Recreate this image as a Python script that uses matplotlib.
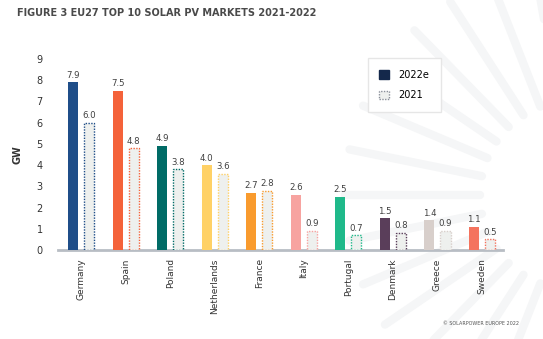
import matplotlib
matplotlib.use("Agg")

import matplotlib.pyplot as plt
import numpy as np
from matplotlib.patches import Patch

# Datos
paises = ["Germany", "Spain", "Poland", "Netherlands", "France",
          "Italy", "Portugal", "Denmark", "Greece", "Sweden"]
gw_2022 = [7.9, 7.5, 4.9, 4.0, 2.7, 2.6, 2.5, 1.5, 1.4, 1.1]
gw_2021 = [6.0, 4.8, 3.8, 3.6, 2.8, 0.9, 0.7, 0.8, 0.9, 0.5]
colores = ["#1F4E89", "#F4623A", "#006B66", "#FFD166", "#F99B2E",
           "#F7A3A0", "#1FB98A", "#5A3E5A", "#D8CFCB", "#F4735E"]

fig = plt.figure(figsize=(5.43, 3.39), dpi=100)

# Rayos decorativos de fondo
fondo = fig.add_axes([0, 0, 1, 1], zorder=0)
fondo.set_xlim(0, 543)
fondo.set_ylim(339, 0)
fondo.axis("off")
cx, cy = 575, 195
for ang in np.linspace(100, 260, 15):
    a = np.deg2rad(ang)
    r1, r2 = 95, 230
    fondo.plot([cx + r1 * np.cos(a), cx + r2 * np.cos(a)],
               [cy + r1 * np.sin(a), cy + r2 * np.sin(a)],
               color="#F5F6F7", lw=6, solid_capstyle="round")

ax = fig.add_axes([0.107, 0.2625, 0.819, 0.5635], zorder=1)
ax.patch.set_alpha(0)

x = np.arange(len(paises))
ancho = 0.23
sep = 0.18

ax.bar(x - sep, gw_2022, ancho, color=colores, zorder=3)
ax.bar(x + sep, gw_2021, ancho, color="#EEF0EE", edgecolor=colores,
       linestyle=(0, (1, 1)), linewidth=1.0, zorder=3)

for i in range(len(paises)):
    ax.text(x[i] - sep, gw_2022[i] + 0.12, f"{gw_2022[i]:.1f}", ha="center",
            va="bottom", fontsize=6.2, color="#404040")
    ax.text(x[i] + sep, gw_2021[i] + 0.12, f"{gw_2021[i]:.1f}", ha="center",
            va="bottom", fontsize=6.2, color="#404040")

ax.set_xlim(-0.52, 9.47)
ax.set_ylim(0, 9)
ax.set_yticks(range(10))
ax.tick_params(axis="y", length=0, labelsize=7, colors="#333333", pad=11)
ax.set_xticks(x)
ax.set_xticklabels(paises, rotation=90, fontsize=6.5, color="#333333")
ax.tick_params(axis="x", length=0, pad=6)
for s in ["top", "right", "left"]:
    ax.spines[s].set_visible(False)
ax.spines["bottom"].set_color("#B8BDC4")
ax.spines["bottom"].set_linewidth(2)
ax.set_ylabel("GW", fontsize=7, fontweight="bold", color="#333333", labelpad=10)

leyenda = [Patch(facecolor="#14284B", edgecolor="#14284B", label="2022e"),
           Patch(facecolor="#EEF0EE", edgecolor="#8A8F99",
                 linestyle=(0, (1, 1)), label="2021")]
ax.legend(handles=leyenda, loc="upper left", bbox_to_anchor=(0.685, 1.03),
          fontsize=7, frameon=True, edgecolor="#E6E6E6", borderpad=1.2,
          labelspacing=1.1, handlelength=1.0, handleheight=1.0,
          handletextpad=1.0, framealpha=1, fancybox=False)

fig.text(0.031, 0.962, "FIGURE 3 EU27 TOP 10 SOLAR PV MARKETS 2021-2022",
         fontsize=7, fontweight="bold", color="#4A4A4A", va="center")
fig.text(0.955, 0.045, "© SOLARPOWER EUROPE 2022", fontsize=3.5,
         color="#555555", ha="right", va="center")

fig.savefig("out.png", dpi=100)
